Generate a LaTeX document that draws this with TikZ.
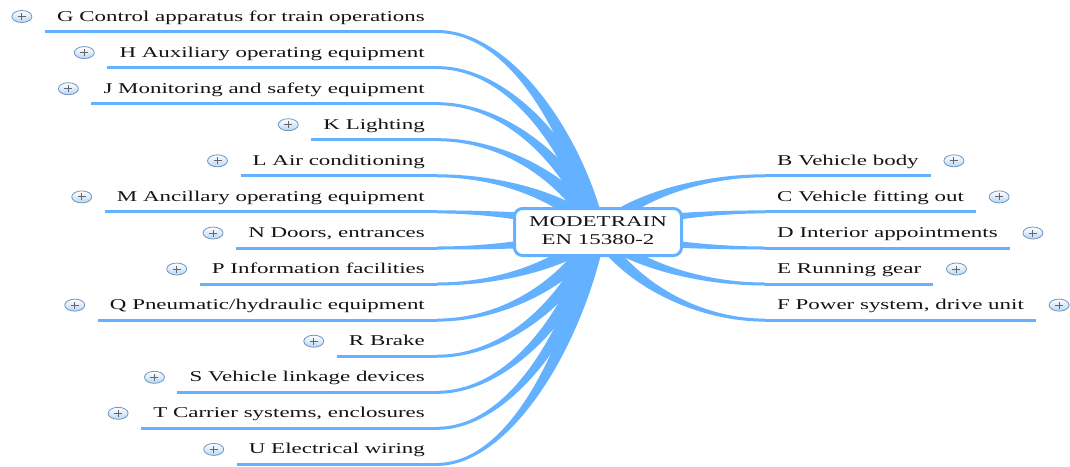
\documentclass[tikz,border=0pt]{standalone}
\usepackage{graphicx}
\usepackage{fontspec}
\setmainfont{Liberation Serif}
\usetikzlibrary{calc,shapes.geometric}
\definecolor{br}{RGB}{99,177,255}
\definecolor{iconb}{RGB}{110,150,190}
\definecolor{iconf}{RGB}{185,214,244}
\newcommand\wide[1]{\scalebox{1.53}[1]{#1}}
\tikzset{
  lab/.style={font=\fontsize{15}{18}\selectfont, inner sep=0pt, text=black!92},
  ul/.style={draw=br, line width=3pt},
  icon/.style={ellipse, draw=iconb, line width=0.8pt, top color=white, bottom color=iconf,
    minimum width=20pt, minimum height=12pt, inner sep=0pt,
    path picture={
      \draw[black!60, line width=0.9pt] ([xshift=-4pt]path picture bounding box.center) -- ([xshift=4pt]path picture bounding box.center);
      \draw[black!60, line width=0.9pt] ([yshift=-3.5pt]path picture bounding box.center) -- ([yshift=3.5pt]path picture bounding box.center);
    }},
  hubbox/.style={draw=br, line width=3pt, rounded corners=8pt, fill=white,
    minimum width=167pt, minimum height=47pt, align=center, inner sep=0pt,
    font=\fontsize{15}{17.4}\selectfont, text=black!92}
}
\newcommand\mmtaper[4]{%
  \coordinate (ta) at ($(#1)!0.45!(#2)$);
  \coordinate (C1) at (ta |- #1);
  \coordinate (tb) at ($(#1)!0.85!(#2)$);
  \coordinate (tc) at ($(#1)!0.5!(#2)$);
  \coordinate (C2) at (tb |- tc);
  \fill[br] ($(#1)!#3pt!90:(C1)$) .. controls ($(C1)!#3pt!-90:(#1)$) and ($(C2)!#4pt!90:(#2)$) .. ($(#2)!#4pt!-90:(C2)$)
     -- ($(#2)!#4pt!90:(C2)$) .. controls ($(C2)!#4pt!-90:(#2)$) and ($(C1)!#3pt!90:(#1)$) .. ($(#1)!#3pt!-90:(C1)$) -- cycle;
}
\newcommand\mmleft[3]{%
  \node[lab, anchor=base east] (#1) at (425,#2) {\wide{#3}};
  \coordinate (#1e) at (437,{#2+10.5});
  \coordinate (#1u) at ($(#1.base west |- #1e)+(-12,0)$);
  \node[icon] (#1i) at ($(#1.base west)+(-35,-4.5)$) {};
  \mmtaper{#1e}{hub}{1.5}{8}
  \draw[ul] (#1u) -- (#1e);
}
\newcommand\mmright[3]{%
  \node[lab, anchor=base west] (#1) at (777,#2) {\wide{#3}};
  \coordinate (#1e) at (765,{#2+10.5});
  \coordinate (#1u) at ($(#1.base east |- #1e)+(12,0)$);
  \node[icon] (#1i) at ($(#1.base east)+(35,-4.5)$) {};
  \mmtaper{#1e}{hub}{1.5}{6.5}
  \draw[ul] (#1e) -- (#1u);
}
\begin{document}
\begin{tikzpicture}[x=1pt,y=-1pt]
\useasboundingbox (0,0) rectangle (1070,466);
\coordinate (hub) at (598,232);
\mmleft{lG}{21}{G Control apparatus for train operations}
\mmleft{lH}{57.1}{H Auxiliary operating equipment}
\mmleft{lJ}{93.2}{J Monitoring and safety equipment}
\mmleft{lK}{129.2}{K Lighting}
\mmleft{lL}{165.3}{L Air conditioning}
\mmleft{lM}{201.4}{M Ancillary operating equipment}
\mmleft{lN}{237.5}{N Doors, entrances}
\mmleft{lP}{273.5}{P Information facilities}
\mmleft{lQ}{309.6}{Q Pneumatic/hydraulic equipment}
\mmleft{lR}{345.7}{R Brake}
\mmleft{lS}{381.8}{S Vehicle linkage devices}
\mmleft{lT}{417.8}{T Carrier systems, enclosures}
\mmleft{lU}{453.9}{U Electrical wiring}
\mmright{rB}{165.3}{B Vehicle body}
\mmright{rC}{201.4}{C Vehicle fitting out}
\mmright{rD}{237.5}{D Interior appointments}
\mmright{rE}{273.5}{E Running gear}
\mmright{rF}{309.6}{F Power system, drive unit}
\node[hubbox] (center) at (hub) {\wide{\begin{tabular}{@{}c@{}}MODETRAIN\\EN 15380-2\end{tabular}}};
\end{tikzpicture}
\end{document}
